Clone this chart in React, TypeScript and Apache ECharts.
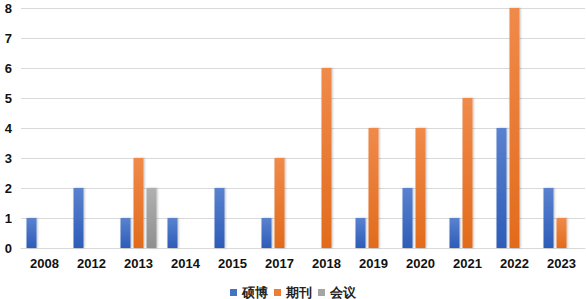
import React, { useEffect, useRef } from "react";
import * as echarts from "echarts";

const categories = ["2008", "2012", "2013", "2014", "2015", "2017", "2018", "2019", "2020", "2021", "2022", "2023"];
const shuobo = [1, 2, 1, 1, 2, 1, 0, 1, 2, 1, 4, 2];
const qikan = [0, 0, 3, 0, 0, 3, 6, 4, 4, 5, 8, 1];
const huiyi = [0, 0, 2, 0, 0, 0, 0, 0, 0, 0, 0, 0];
const yTicks = [0, 1, 2, 3, 4, 5, 6, 7, 8];

const grad = (top: string, bottom: string) =>
  new echarts.graphic.LinearGradient(0, 0, 0, 1, [
    { offset: 0, color: top },
    { offset: 1, color: bottom },
  ]);

const FONT = "Liberation Sans, Arial, sans-serif";

export default function App() {
  const ref = useRef<HTMLDivElement>(null);
  useEffect(() => {
    if (!ref.current) return;
    const chart = echarts.init(ref.current, undefined, { renderer: "svg" });
    const mk = (name: string, data: number[], top: string, bottom: string) => ({
      name,
      type: "bar",
      data: data.map((v) => (v === 0 ? null : v)),
      barWidth: 10,
      barGap: "30%",
      itemStyle: {
        color: grad(top, bottom),
        shadowColor: "rgba(0,0,0,0.25)",
        shadowBlur: 2,
        shadowOffsetX: 1,
        shadowOffsetY: 0,
      },
      emphasis: { disabled: true },
    });
    chart.setOption({
      animation: false,
      grid: { left: 21, right: 1, top: 8, bottom: 51, containLabel: false },
      legend: {
        top: 281,
        left: "center",
        itemWidth: 7,
        itemHeight: 7,
        itemGap: 6,
        icon: "rect",
        textStyle: { fontFamily: FONT, fontSize: 13, fontWeight: "bold", color: "#222" },
        data: [
          { name: "硕博", itemStyle: { color: "#4472C4" } },
          { name: "期刊", itemStyle: { color: "#ED7D31" } },
          { name: "会议", itemStyle: { color: "#A5A5A5" } },
        ],
      },
      xAxis: {
        type: "category",
        data: categories,
        axisLine: { lineStyle: { color: "#d9d9d9", width: 1 } },
        axisTick: { show: false },
        axisLabel: {
          color: "#111",
          fontSize: 13,
          fontWeight: "bold",
          fontFamily: FONT,
          margin: 9,
        },
      },
      yAxis: {
        type: "value",
        min: yTicks[0],
        max: yTicks[yTicks.length - 1],
        interval: 1,
        axisLine: { show: false },
        axisTick: { show: false },
        splitLine: { lineStyle: { color: "#d9d9d9", width: 1 } },
        axisLabel: {
          color: "#111",
          fontSize: 13,
          fontWeight: "bold",
          fontFamily: FONT,
          margin: 9,
        },
      },
      series: [
        mk("硕博", shuobo, "#5a82cf", "#2d5cb8"),
        mk("期刊", qikan, "#f08a4a", "#e26b1c"),
        mk("会议", huiyi, "#b0b0b0", "#8f8f8f"),
      ],
    });
    return () => chart.dispose();
  }, []);
  return <div ref={ref} style={{ width: 586, height: 299, position: "absolute", left: 0, top: 0 }} />;
}
